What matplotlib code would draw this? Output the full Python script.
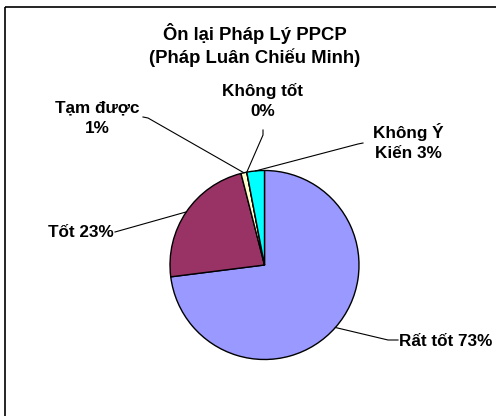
import matplotlib.pyplot as plt
from matplotlib.patches import Rectangle
import numpy as np

plt.rcParams['font.family'] = ['Liberation Sans', 'DejaVu Sans']

# dữ liệu khảo sát
categories = ['Rất tốt', 'Tốt', 'Tạm được', 'Không tốt', 'Không Ý Kiến']
values = [73, 23, 1, 0, 3]
colors = ['#9999FF', '#993366', '#FFFFCC', '#FFFFFF', '#00FFFF']
label_texts = ['Rất tốt 73%', 'Tốt 23%', 'Tạm được\n1%', 'Không tốt\n0%', 'Không Ý\nKiến 3%']

W, H = 496, 416
fig = plt.figure(figsize=(W / 100, H / 100), dpi=100)

# khung viền biểu đồ
fig.patches.append(Rectangle((5 / W, 1 - 7 / H), 2, -2, transform=fig.transFigure,
                             fill=False, edgecolor='black', linewidth=1.2))

cx, cy, r = 264.5, 265, 94.5
ax = fig.add_axes([(cx - r) / W, (H - cy - r) / H, 2 * r / W, 2 * r / H])

wedges, _ = ax.pie(values, colors=colors, startangle=90, counterclock=False,
                   radius=1, wedgeprops=dict(edgecolor='black', linewidth=1.0))
# pie() đặt lại giới hạn ±1.25, nên đặt lại sau
ax.set_xlim(-1, 1)
ax.set_ylim(-1, 1)
ax.axis('off')


def to_data(px, py):
    return (px - cx) / r, (cy - py) / r


# vị trí nhãn (pixel) và đường dẫn
label_pos = [(446, 341), (81, 232), (97, 118), (263, 101), (408, 142)]
leader_pts = [
    [(398, 340), (388, 340)],
    [(115, 232)],
    [(143, 117), (148, 118)],
    [(263, 130), (263, 135)],
    [(363, 143), (358, 144)],
]

for w, txt, pos, pts in zip(wedges, label_texts, label_pos, leader_pts):
    mid = np.deg2rad((w.theta1 + w.theta2) / 2)
    ex, ey = np.cos(mid), np.sin(mid)
    xs = [to_data(*p)[0] for p in pts] + [ex]
    ys = [to_data(*p)[1] for p in pts] + [ey]
    ax.plot(xs, ys, color='black', linewidth=0.8, clip_on=False)
    tx, ty = to_data(*pos)
    ax.text(tx, ty, txt, ha='center', va='center', fontsize=12.3, fontweight='bold',
            linespacing=1.45, multialignment='center')

fig.text(255 / W, 1 - 45 / H, 'Ôn lại Pháp Lý PPCP\n(Pháp Luân Chiếu Minh)',
         ha='center', va='center', fontsize=13.3, fontweight='bold', linespacing=1.35)

fig.savefig('out.png', dpi=100)
